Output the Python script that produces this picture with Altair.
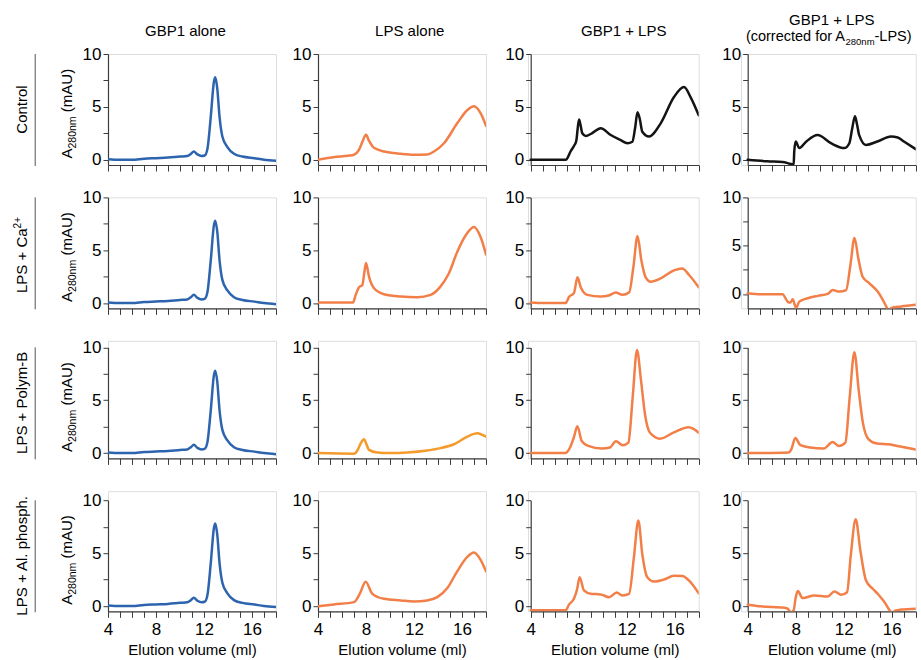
import altair as alt
import pandas as pd

FONT = "Liberation Sans"
BLUE = "#2d64ae"
ORANGE = "#f37f48"
AMBER = "#f59b2d"
BLACK = "#141414"
AXIS = "#3c3c3c"

# ---------------- text ----------------
col_titles = ["GBP1 alone", "LPS alone", "GBP1 + LPS"]
col_title_x = [184.7, 409.0, 623.0]
col4_line1 = "GBP1 + LPS"
col4_line2 = ["(corrected for A", "280nm", "-LPS)"]
row_labels = ["Control", "LPS + Ca", "LPS + Polym-B", "LPS + Al. phosph."]
ca_sup = "2+"
y_title = ["A", "280nm", "(mAU)"]
x_title = "Elution volume (ml)"

# ---------------- data (elution volume ml, A280 mAU) ----------------
vol_gbp1 = [4, 5, 6, 7, 8, 9, 10, 10.6, 10.9, 11.15, 11.45, 11.8, 12.05, 12.28, 12.56, 12.83, 12.94, 13.1, 13.3, 13.53, 13.95, 14.5, 15.2, 16.2, 17, 18]
a_gbp1 = [0.05, 0.0, 0.0, 0.1, 0.15, 0.2, 0.3, 0.35, 0.55, 0.78, 0.5, 0.35, 0.4, 1.0, 4.0, 7.4, 7.8, 6.8, 4.0, 2.2, 1.2, 0.56, 0.3, 0.14, 0.0, -0.1]

vol_lps_ctrl = [4, 5.4, 6.5, 7.0, 7.4, 7.7, 8.0, 8.25, 8.55, 9.0, 9.5, 10.9, 12.0, 13.1, 13.66, 14.5, 15.6, 16.45, 17.0, 17.55, 18.0]
a_lps_ctrl = [0.0, 0.25, 0.38, 0.47, 0.9, 1.7, 2.35, 1.8, 1.25, 0.95, 0.78, 0.56, 0.47, 0.5, 0.78, 1.56, 3.44, 4.7, 5.06, 4.4, 3.2]

vol_mix_ctrl = [4, 6.9, 7.0, 7.33, 7.6, 7.8, 7.92, 8.03, 8.15, 8.3, 8.58, 9.1, 9.83, 10.67, 11.5, 12.06, 12.47, 12.7, 12.9, 13.1, 13.3, 13.86, 14.83, 15.94, 16.78, 17.33, 18.0]
a_mix_ctrl = [0.0, 0.0, 0.05, 0.8, 1.3, 1.8, 3.0, 3.8, 3.3, 2.5, 2.25, 2.5, 2.97, 2.34, 1.85, 1.56, 1.7, 3.0, 4.5, 3.8, 2.65, 2.2, 3.44, 5.93, 6.87, 5.9, 4.2]

vol_cor_ctrl = [4, 5.64, 6.9, 7.6, 7.83, 7.88, 8.0, 8.3, 8.86, 9.83, 10.94, 12.05, 12.47, 12.7, 12.94, 13.1, 13.3, 13.86, 14.8, 15.94, 16.5, 17.05, 18]
a_cor_ctrl = [0.0, -0.15, -0.22, -0.4, -0.45, 0.8, 1.72, 1.1, 1.7, 2.34, 1.56, 1.1, 1.56, 2.9, 4.12, 3.4, 2.3, 1.4, 1.72, 2.2, 2.1, 1.7, 1.0]

vol_lps_ca = [4, 6.92, 7.14, 7.42, 7.7, 7.85, 8.0, 8.25, 8.67, 9.5, 10.9, 12.28, 13.39, 14.2, 14.9, 15.6, 16.3, 17.0, 17.55, 18.0]
a_lps_ca = [0.05, 0.06, 0.78, 1.5, 1.72, 2.8, 3.8, 2.5, 1.4, 0.84, 0.62, 0.56, 0.78, 1.56, 2.8, 4.84, 6.4, 7.2, 6.25, 4.6]

vol_mix_ca = [4, 5.1, 6.9, 7.2, 7.6, 7.9, 8.17, 8.72, 9.83, 10.5, 11.08, 11.64, 12.2, 12.56, 12.9, 13.22, 13.58, 14.0, 14.83, 15.94, 16.64, 17.2, 18.0]
a_mix_ca = [0.06, 0.0, 0.0, 0.6, 0.94, 2.44, 1.5, 0.78, 0.62, 0.72, 1.0, 0.78, 1.0, 3.44, 6.34, 4.06, 2.44, 2.03, 2.34, 3.1, 3.28, 2.66, 1.5]

vol_cor_ca = [4, 5.1, 6.9, 7.33, 7.55, 7.75, 8.03, 8.3, 9.0, 9.83, 10.67, 11.08, 11.64, 12.2, 12.56, 12.9, 13.22, 13.58, 14.14, 14.83, 15.25, 15.58, 15.75, 15.94, 16.78, 18]
a_cor_ca = [0.07, -0.03, -0.03, -0.8, -0.9, -0.55, -1.45, -0.8, -0.45, -0.2, 0.0, 0.4, 0.24, 0.4, 3.0, 5.8, 3.66, 1.78, 1.1, 0.24, -0.6, -1.4, -1.8, -1.47, -1.3, -1.13]

vol_lps_pb = [4, 7.0, 7.28, 7.55, 7.83, 8.05, 8.25, 8.94, 10.06, 11.44, 13.1, 14.2, 15.33, 16.44, 17.28, 17.7, 18]
a_lps_pb = [0.0, -0.06, 0.25, 0.9, 1.31, 0.8, 0.31, 0.06, 0.0, 0.06, 0.25, 0.47, 0.84, 1.56, 1.87, 1.72, 1.56]

vol_mix_pb = [4, 6.86, 7.28, 7.6, 7.89, 8.25, 8.8, 9.92, 10.6, 11.1, 11.67, 12.14, 12.5, 12.86, 13.19, 13.53, 13.94, 14.78, 15.89, 17.14, 17.56, 18.0]
a_mix_pb = [0.0, 0.0, 0.53, 1.5, 2.55, 1.15, 0.68, 0.43, 0.53, 1.12, 0.75, 1.0, 5.3, 9.75, 6.9, 3.63, 1.93, 1.37, 1.93, 2.45, 2.3, 1.93]

vol_cor_pb = [4, 7.42, 7.64, 7.97, 8.39, 9.22, 10.33, 11.08, 11.58, 12.14, 12.5, 12.89, 13.25, 13.6, 14.08, 14.78, 15.75, 16.72, 18.0]
a_cor_pb = [0.0, 0.06, 0.37, 1.43, 0.75, 0.53, 0.43, 1.06, 0.68, 1.0, 5.3, 9.53, 5.96, 2.86, 1.3, 0.9, 0.84, 0.62, 0.35]

vol_lps_al = [4, 5.33, 7.0, 7.5, 7.97, 8.53, 9.5, 10.89, 12.0, 13.1, 13.94, 14.78, 15.6, 16.44, 17.0, 17.56, 18.0]
a_lps_al = [-0.03, 0.15, 0.37, 1.2, 2.3, 1.15, 0.68, 0.53, 0.43, 0.53, 0.84, 1.7, 3.28, 4.65, 5.06, 4.34, 3.28]

vol_mix_al = [4, 6.92, 7.2, 7.6, 7.85, 8.08, 8.44, 9.0, 9.83, 10.53, 11.17, 11.64, 12.2, 12.6, 12.97, 13.3, 13.72, 14.28, 15.1, 15.94, 16.64, 17.2, 18.0]
a_mix_al = [-0.4, -0.4, 0.15, 0.69, 1.5, 2.72, 1.47, 1.15, 1.1, 0.84, 1.28, 1.0, 1.15, 4.6, 8.1, 4.9, 2.72, 2.31, 2.5, 2.87, 2.84, 2.4, 1.2]

vol_cor_al = [4, 5.1, 7.06, 7.33, 7.6, 7.83, 8.0, 8.17, 8.58, 9.55, 10.67, 11.22, 11.78, 12.28, 12.6, 13.0, 13.39, 13.86, 14.42, 14.83, 15.39, 16.05, 16.3, 16.78, 18]
a_cor_al = [0.13, -0.03, -0.16, -0.25, -0.6, -0.4, 0.8, 1.41, 0.75, 1.0, 0.9, 1.38, 1.06, 1.3, 4.9, 8.2, 5.23, 2.41, 1.63, 1.16, 0.38, -0.6, -0.45, -0.34, -0.25]

curves = {
    (0, 0): (vol_gbp1, a_gbp1, BLUE), (0, 1): (vol_lps_ctrl, a_lps_ctrl, ORANGE),
    (0, 2): (vol_mix_ctrl, a_mix_ctrl, BLACK), (0, 3): (vol_cor_ctrl, a_cor_ctrl, BLACK),
    (1, 0): (vol_gbp1, a_gbp1, BLUE), (1, 1): (vol_lps_ca, a_lps_ca, ORANGE),
    (1, 2): (vol_mix_ca, a_mix_ca, ORANGE), (1, 3): (vol_cor_ca, a_cor_ca, ORANGE),
    (2, 0): (vol_gbp1, a_gbp1, BLUE), (2, 1): (vol_lps_pb, a_lps_pb, AMBER),
    (2, 2): (vol_mix_pb, a_mix_pb, ORANGE), (2, 3): (vol_cor_pb, a_cor_pb, ORANGE),
    (3, 0): (vol_gbp1, a_gbp1, BLUE), (3, 1): (vol_lps_al, a_lps_al, ORANGE),
    (3, 2): (vol_mix_al, a_mix_al, ORANGE), (3, 3): (vol_cor_al, a_cor_al, ORANGE),
}
y_min = {(1, 3): -1.5}

# ---------------- layout (absolute page positions of plot areas) ----------------
X_AX = [107.3, 317.3, 530.0, 746.7]
T_AX = [53.3, 196.7, 346.7, 499.2]
PW, PH = 168, 111
SC, SR = 42, 32.4

G, s = [X_AX[0]], [0.0]
for c in range(1, 4):
    g = G[c - 1] + s[c - 1] + PW + SC
    G.append(g)
    s.append(round(X_AX[c] - g, 2))
GY, t = [T_AX[0]], [0.0]
for r in range(1, 4):
    g = GY[r - 1] + t[r - 1] + PH + SR
    GY.append(g)
    t.append(round(T_AX[r] - g, 2))


def txt(text, ax, ay, r, c, size=15, angle=0, align="center", baseline="alphabetic"):
    return alt.Chart(pd.DataFrame({"t": [text]})).mark_text(
        font=FONT, fontSize=size, angle=angle, align=align, baseline=baseline, color="black"
    ).encode(x=alt.value(ax - G[c]), y=alt.value(ay - GY[r]), text="t:N")


def panel(r, c):
    xs, ys, color = curves[(r, c)]
    df = pd.DataFrame({"v": xs, "a": ys})
    lo = y_min.get((r, c), -0.5)
    common = dict(domainColor=AXIS, tickColor=AXIS, domainWidth=1.2, tickWidth=1,
                  grid=False, labelFont=FONT, labelFontSize=17, labelColor="black",
                  labelFlush=False, labelOverlap=False)
    if r == 3:
        xaxis = alt.Axis(values=list(range(4, 19)), tickSize=6, labelPadding=4,
                         labelExpr="datum.value % 4 === 0 ? datum.label : ''",
                         title=x_title, titleFont=FONT, titleFontSize=15, titleFontWeight="normal",
                         titleColor="black", titlePadding=5, **common)
    else:
        xaxis = alt.Axis(values=list(range(4, 19)), tickSize=6, labels=False, title=None, **common)
    yaxis = alt.Axis(values=[0, 2.5, 5, 7.5, 10], tickSize=5, labelPadding=2,
                     labelExpr="datum.value % 5 === 0 ? datum.label : ''",
                     title=None, offset=-s[c], **common)
    line = alt.Chart(df).mark_line(
        clip=True, interpolate="monotone", color=color, strokeWidth=2.5,
        strokeJoin="round", strokeCap="round"
    ).encode(
        x=alt.X("v:Q", scale=alt.Scale(domain=[4, 18], nice=False, zero=False, rangeMin=s[c]), axis=xaxis),
        y=alt.Y("a:Q", scale=alt.Scale(domain=[lo, 10], nice=False, zero=False, rangeMax=t[r]), axis=yaxis),
    )
    layers = [line]
    T = T_AX[r]
    if r == 0:
        if c < 3:
            layers.append(txt(col_titles[c], col_title_x[c], 35, r, c))
        else:
            cx = X_AX[c] + PW / 2
            layers.append(txt(col4_line1, cx, 24, r, c))
            j1 = 844.0
            wsub = 3.057 * 9.5
            layers.append(txt(col4_line2[0], j1, 40.5, r, c, size=14.5, align="right"))
            layers.append(txt(col4_line2[1], j1 + 0.5, 44, r, c, size=9.5, align="left"))
            layers.append(txt(col4_line2[2], j1 + 0.5 + wsub, 40.5, r, c, size=14.5, align="left"))
    if c == 0:
        # y-axis title with subscript
        y0 = T + 104.5
        layers.append(txt(y_title[0], 71.7, y0, r, c, angle=270, align="left"))
        layers.append(txt(y_title[1], 75.5, y0 - 10.0, r, c, size=10.5, angle=270, align="left"))
        layers.append(txt(y_title[2], 71.7, y0 - 10.0 - 32.1 - 4.2, r, c, angle=270, align="left"))
        # row label + separator
        if r == 1:
            j = T + 31
            layers.append(txt(row_labels[r], 26.5, j, r, c, angle=270, align="right"))
            layers.append(txt(ca_sup, 20.5, j, r, c, size=10, angle=270, align="left"))
        else:
            layers.append(txt(row_labels[r], 26.5, T + 55.5, r, c, angle=270, align="center"))
        rule_df = pd.DataFrame({"k": [0]})
        layers.append(alt.Chart(rule_df).mark_rule(color="#555555", strokeWidth=1).encode(
            x=alt.value(34.5 - G[c]), y=alt.value(T - GY[r]), y2=alt.value(T + 112 - GY[r])))
        if r == 0:
            layers.append(alt.Chart(rule_df).mark_point(size=1, opacity=0).encode(
                x=alt.value(0.6 - G[c]), y=alt.value(0.6 - GY[r])))
    return alt.layer(*layers).properties(width=s[c] + PW, height=t[r] + PH)


panels = [panel(r, c) for r in range(4) for c in range(4)]
chart = alt.concat(
    *panels, columns=4, spacing={"row": SR, "column": SC}, bounds="flush", align="each"
).properties(
    padding={"left": 0, "top": 0, "right": 0, "bottom": 0}
).configure_view(stroke=None).configure(font=FONT, background="white")

chart.save("out.html", embed_options={"renderer": "svg", "actions": False})
